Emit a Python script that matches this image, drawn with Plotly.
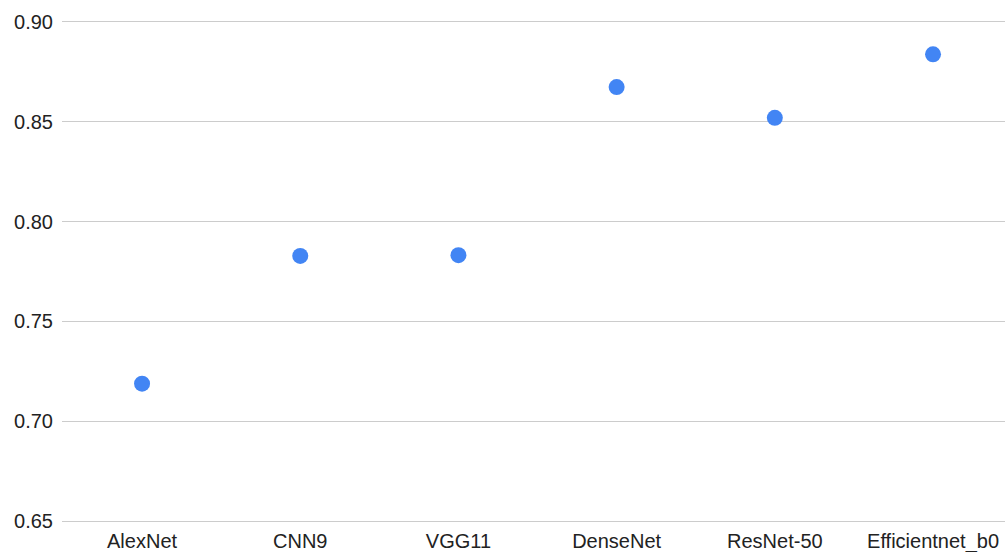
import plotly.graph_objects as go

models = ["AlexNet", "CNN9", "VGG11", "DenseNet", "ResNet-50", "Efficientnet_b0"]
accuracy = [0.7188, 0.7828, 0.7832, 0.8674, 0.8520, 0.8838]
y_ticks = [0.65, 0.70, 0.75, 0.80, 0.85, 0.90]
y_tick_labels = ["0.65", "0.70", "0.75", "0.80", "0.85", "0.90"]

fig = go.Figure(go.Scatter(
    x=list(range(len(models))), y=accuracy, mode="markers",
    marker=dict(color="#4285F4", size=16, line=dict(width=0)),
))

fig.update_layout(
    width=1005, height=552,
    margin=dict(l=62, r=0, t=18, b=27),
    paper_bgcolor="white", plot_bgcolor="white",
    font=dict(family="Liberation Sans, Arial, sans-serif", size=20, color="#222"),
    showlegend=False,
    xaxis=dict(
        range=[-0.506, 5.455], tickmode="array",
        tickvals=list(range(len(models))), ticktext=models,
        showgrid=False, zeroline=False, showline=False, ticks="",
        ticklabelstandoff=2,
    ),
    yaxis=dict(
        range=[0.648, 0.902], tickmode="array", tickvals=y_ticks, ticktext=y_tick_labels,
        showgrid=True, gridcolor="#cccccc", gridwidth=1.3, zeroline=False,
        showline=False, ticks="", ticklabelstandoff=8,
    ),
)

fig.write_html(
    "out.html",
    config={"displayModeBar": False},
    post_script="document.body.style.margin='0';document.body.style.overflow='hidden';",
)
